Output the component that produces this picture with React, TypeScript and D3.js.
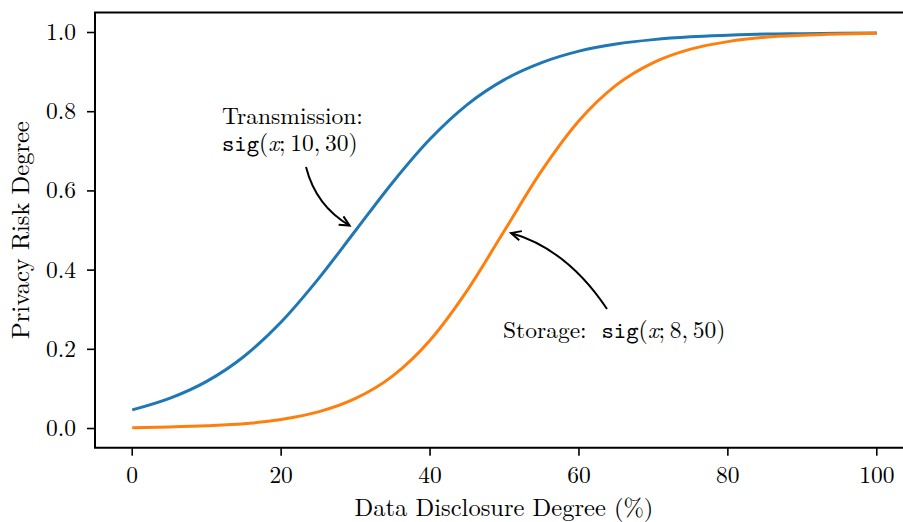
import React from 'react'
import * as d3 from 'd3'

// values (x every 5 %)
const disclosure = [0, 5, 10, 15, 20, 25, 30, 35, 40, 45, 50, 55, 60, 65, 70, 75, 80, 85, 90, 95, 100]
const transmission = [0.047, 0.076, 0.119, 0.182, 0.269, 0.378, 0.5, 0.622, 0.731, 0.818, 0.881, 0.924, 0.953, 0.971, 0.982, 0.989, 0.993, 0.996, 0.997, 0.998, 0.999]
const storage = [0.002, 0.004, 0.007, 0.012, 0.023, 0.042, 0.076, 0.133, 0.223, 0.349, 0.5, 0.651, 0.777, 0.867, 0.924, 0.958, 0.977, 0.988, 0.993, 0.996, 0.998]
const xTicks = [0, 20, 40, 60, 80, 100]
const yTicks = [0, 0.2, 0.4, 0.6, 0.8, 1.0]

const W = 903
const H = 522
const left = 95
const right = 914
const top = 12.5
const bottom = 447.7

const serif = '"Latin Modern Roman", "CMU Serif", "Liberation Serif", serif'
const mono = '"Latin Modern Mono", "CMU Typewriter Text", "Liberation Mono", "DejaVu Sans Mono", monospace'
const fs = 23.5
const ts = '\u2009'

const arrowHead = (x: number, y: number, fromX: number, fromY: number) => {
  const a = Math.atan2(y - fromY, x - fromX)
  const len = 11
  const spread = 0.45
  const p1 = [x - len * Math.cos(a - spread), y - len * Math.sin(a - spread)]
  const p2 = [x - len * Math.cos(a + spread), y - len * Math.sin(a + spread)]
  return `M${p1[0]},${p1[1]}L${x},${y}L${p2[0]},${p2[1]}`
}

export default function App() {
  const x = d3.scaleLinear().domain([-5, 105]).range([left, right])
  const y = d3.scaleLinear().domain([-0.0484, 1.0505]).range([bottom, top])

  const line = (vals: number[]) =>
    d3.line<number>()
      .x((_, i) => x(disclosure[i]))
      .y((d) => y(d))
      .curve(d3.curveMonotoneX)(vals) as string

  // annotation arrows: text -> near the curve midpoints
  const tA = { sx: 306, sy: 167, cx: 316, cy: 206, ex: x(30) - 6, ey: y(0.5) - 5 }
  const sA = { sx: 607, sy: 309, cx: 567, cy: 249, ex: x(50) + 6.5, ey: y(0.5) + 2.5 }

  return (
    <svg width={W} height={H} style={{ position: 'absolute', left: 0, top: 0, background: '#fff' }}>
      <rect width={W} height={H} fill="#fff" />
      <path d={line(transmission)} fill="none" stroke="#1f77b4" strokeWidth={3} />
      <path d={line(storage)} fill="none" stroke="#ff7f0e" strokeWidth={3} />

      {/* spines */}
      <path d={`M${left},${bottom}V${top}H${right}V${bottom}Z`} fill="none" stroke="#000" strokeWidth={2} />

      {xTicks.map((t) => (
        <g key={t}>
          <line x1={x(t)} x2={x(t)} y1={bottom} y2={bottom + 8} stroke="#000" strokeWidth={1.6} />
          <text x={x(t)} y={483} textAnchor="middle" fontFamily={serif} fontSize={fs}>{t}</text>
        </g>
      ))}
      {yTicks.map((t) => (
        <g key={t}>
          <line x1={left - 8} x2={left} y1={y(t)} y2={y(t)} stroke="#000" strokeWidth={1.6} />
          <text x={76} y={y(t) + 7.5} textAnchor="end" fontFamily={serif} fontSize={fs}>{t.toFixed(1)}</text>
        </g>
      ))}

      <text x={504} y={515.5} textAnchor="middle" fontFamily={serif} fontSize={24.5}>Data Disclosure Degree (%)</text>
      <text transform={`translate(29,${(top + bottom) / 2}) rotate(-90)`} textAnchor="middle" fontFamily={serif} fontSize={24.5}>Privacy Risk Degree</text>

      {/* Transmission annotation */}
      <text x={222} y={124} fontFamily={serif} fontSize={fs}>Transmission:</text>
      <text x={222} y={151} fontFamily={serif} fontSize={fs}>
        <tspan fontFamily={mono}>sig</tspan>(<tspan fontStyle="italic">x</tspan>;{ts}10,{ts}30)
      </text>
      <path d={`M${tA.sx},${tA.sy}Q${tA.cx},${tA.cy} ${tA.ex},${tA.ey}`} fill="none" stroke="#000" strokeWidth={2} />
      <path d={arrowHead(tA.ex, tA.ey, tA.cx, tA.cy)} fill="none" stroke="#000" strokeWidth={2} />

      {/* Storage annotation */}
      <text x={503} y={338} fontFamily={serif} fontSize={fs}>
        Storage:{' '}<tspan dx={7} fontFamily={mono}>sig</tspan>(<tspan fontStyle="italic">x</tspan>;{ts}8,{ts}50)
      </text>
      <path d={`M${sA.sx},${sA.sy}Q${sA.cx},${sA.cy} ${sA.ex},${sA.ey}`} fill="none" stroke="#000" strokeWidth={2} />
      <path d={arrowHead(sA.ex, sA.ey, sA.cx, sA.cy)} fill="none" stroke="#000" strokeWidth={2} />
    </svg>
  )
}
